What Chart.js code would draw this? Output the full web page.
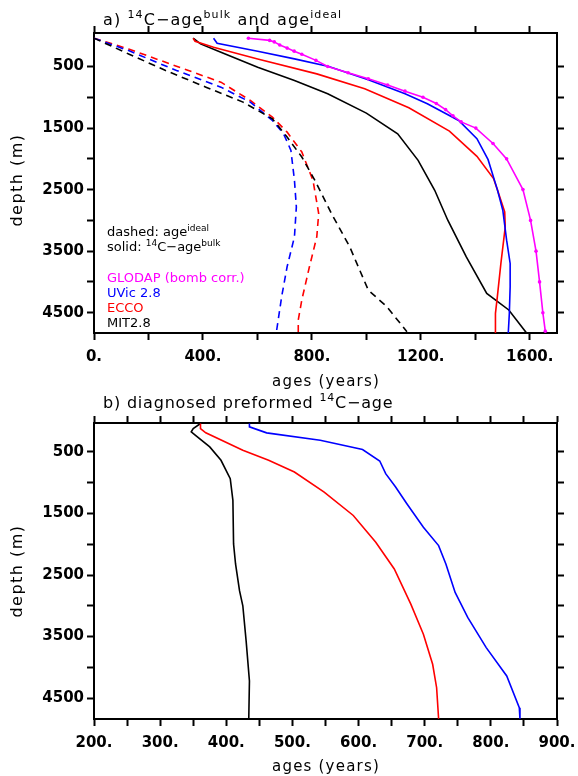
<!DOCTYPE html>
<html>
<head>
<meta charset="utf-8">
<script src="https://cdn.jsdelivr.net/npm/chart.js@4.4.1/dist/chart.umd.min.js"></script>
<style>
  body { margin: 0; background: #fff; }
  #wrap { position: relative; width: 578px; height: 776px; }
  canvas { position: absolute; left: 0; }
</style>
</head>
<body>
<div id="wrap">
  <canvas id="chartA" width="578" height="390" style="top:0"></canvas>
  <canvas id="chartB" width="578" height="386" style="top:390px"></canvas>
</div>
<script>
// ---- panel a: 14C-age (bulk) and ideal age, depth in m / age in years ----
const glodapDepth = [40, 75, 100, 150, 200, 250, 300, 400, 500, 600, 700, 800, 900, 1000, 1100, 1200, 1300, 1400, 1500, 1750, 2000, 2500, 3000, 3500, 4000, 4500, 4800];
const glodapBulk  = [567, 645, 662, 682, 709, 735, 763, 815, 858, 933, 1007, 1078, 1142, 1208, 1257, 1291, 1318, 1348, 1402, 1465, 1515, 1575, 1603, 1623, 1636, 1648, 1657];

const uvicBulkDepth = [40, 122, 251, 376, 500, 716, 943, 1105, 1376, 1673, 2013, 2500, 2835, 3321, 3700, 4078, 4511, 4835];
const uvicBulk      = [439, 452, 601, 736, 862, 1007, 1142, 1224, 1339, 1406, 1447, 1481, 1501, 1515, 1528, 1528, 1525, 1521];

const eccoBulkDepth = [40, 89, 186, 376, 619, 862, 1170, 1549, 1959, 2321, 2500, 2861, 3105, 3700, 4240, 4511, 4835];
const eccoBulk      = [364, 371, 439, 601, 818, 994, 1156, 1305, 1406, 1467, 1481, 1508, 1510, 1494, 1481, 1474, 1474];

const mitBulkDepth = [40, 132, 268, 511, 727, 943, 1257, 1592, 2024, 2511, 2997, 3592, 4186, 4456, 4835];
const mitBulk      = [364, 391, 466, 601, 736, 858, 1000, 1115, 1190, 1251, 1299, 1367, 1442, 1523, 1589];

const mitIdealDepth = [40, 295, 565, 835, 1078, 1349, 1646, 1970, 2349, 2889, 3430, 4132, 4402, 4808];
const mitIdeal      = [0, 127, 263, 411, 547, 655, 709, 763, 811, 872, 939, 1007, 1075, 1149];

const eccoIdealDepth = [40, 214, 538, 754, 1051, 1322, 1565, 1889, 2349, 2889, 3267, 3754, 4294, 4619, 4835];
const eccoIdeal      = [0, 127, 330, 466, 574, 655, 709, 763, 804, 825, 818, 791, 763, 750, 750];

const uvicIdealDepth = [40, 241, 565, 835, 1078, 1376, 1592, 1862, 2349, 2781, 3267, 3754, 4240, 4835];
const uvicIdeal      = [0, 127, 303, 466, 574, 655, 696, 723, 736, 743, 736, 709, 689, 669];

// ---- panel b: diagnosed preformed 14C-age ----
const mitPreDepth = [38, 120, 174, 228, 418, 636, 935, 1288, 1995, 2321, 2755, 3000, 3571, 4223, 4837];
const mitPre      = [361, 350, 347, 353, 375, 392, 406, 410, 411, 414, 420, 425, 430, 435, 434];

const eccoPreDepth = [38, 120, 190, 473, 636, 826, 1152, 1533, 1967, 2402, 2973, 3462, 3951, 4332, 4837];
const eccoPre      = [361, 361, 369, 425, 464, 503, 548, 592, 626, 654, 679, 698, 712, 718, 721];

const uvicPreDepth = [38, 92, 190, 310, 462, 647, 853, 1071, 1342, 1723, 2022, 2321, 2783, 3190, 3680, 4141, 4658, 4837];
const uvicPre      = [435, 435, 461, 542, 606, 632, 641, 656, 673, 698, 721, 732, 746, 765, 793, 824, 843, 844];

// axis tick values
const depthTicks = [500, 1000, 1500, 2000, 2500, 3000, 3500, 4000, 4500];
const ageTicksA = [0, 200, 400, 600, 800, 1000, 1200, 1400, 1600];
const ageTicksB = [200, 250, 300, 350, 400, 450, 500, 550, 600, 650, 700, 750, 800, 850, 900];

const FONT = "'DejaVu Sans', sans-serif";

function pts(ages, depths) {
    return ages.map((a, i) => ({ x: a, y: depths[i] }));
}

function line(label, ages, depths, color, dashed, dots) {
    return {
        label: label,
        data: pts(ages, depths),
        showLine: true,
        borderColor: color,
        backgroundColor: color,
        borderWidth: 1.6,
        borderDash: dashed ? [7, 5] : [],
        pointRadius: dots ? 1.8 : 0,
        pointBorderWidth: 0,
        tension: 0
    };
}

// draws text with superscript pieces: parts = [[text, isSup], ...]
function drawRich(ctx, it) {
    const size = it.size;
    const supSize = Math.round(size * 0.7);
    ctx.save();
    ctx.translate(it.x, it.y);
    if (it.rotate) ctx.rotate(-Math.PI / 2);
    ctx.fillStyle = it.color || "#000";
    ctx.textBaseline = "alphabetic";
    ctx.textAlign = "left";
    ctx.letterSpacing = (it.spacing || 0) + "px";
    let w = 0;
    it.parts.forEach(p => {
        ctx.font = (p[1] ? supSize : size) + "px " + FONT;
        w += ctx.measureText(p[0]).width;
    });
    let cx = it.center ? -w / 2 : 0;
    it.parts.forEach(p => {
        ctx.font = (p[1] ? supSize : size) + "px " + FONT;
        ctx.fillText(p[0], cx, p[1] ? -size * 0.42 : 0);
        cx += ctx.measureText(p[0]).width;
    });
    ctx.restore();
}

const textPlugin = {
    id: "texts",
    afterDraw(chart, args, opts) {
        (opts.items || []).forEach(it => drawRich(chart.ctx, it));
    }
};

function makeScales(xMin, xMax, xTicks, xLabelStep, yMin, yMax, bottomH) {
    const grid = { drawOnChartArea: false, tickLength: 7, tickWidth: 2, color: "#000" };
    const border = { width: 2, color: "#000" };
    const noPad = s => { s.paddingLeft = 0; s.paddingRight = 0; s.paddingTop = 0; s.paddingBottom = 0; };
    return {
        x: {
            type: "linear", position: "bottom", min: xMin, max: xMax,
            afterBuildTicks: s => { s.ticks = xTicks.map(v => ({ value: v })); },
            afterFit: s => { s.height = bottomH; noPad(s); },
            ticks: {
                maxRotation: 0, autoSkip: false, padding: 8, color: "#000",
                font: { family: FONT, size: 15, weight: "bold" },
                callback: v => (v % xLabelStep === 0 ? v + "." : "")
            },
            grid: grid, border: border
        },
        xTop: {
            type: "linear", position: "top", min: xMin, max: xMax,
            afterBuildTicks: s => { s.ticks = xTicks.map(v => ({ value: v })); },
            afterFit: s => { s.height = 33; noPad(s); },
            ticks: { display: false },
            grid: grid, border: border
        },
        y: {
            type: "linear", position: "left", reverse: true, min: yMin, max: yMax,
            afterBuildTicks: s => { s.ticks = depthTicks.map(v => ({ value: v })); },
            afterFit: s => { s.width = 94; noPad(s); },
            ticks: {
                autoSkip: false, padding: 3, color: "#000",
                font: { family: FONT, size: 15, weight: "bold" },
                callback: v => (v % 1000 === 500 ? String(v) : "")
            },
            grid: grid, border: border
        },
        yRight: {
            type: "linear", position: "right", reverse: true, min: yMin, max: yMax,
            afterBuildTicks: s => { s.ticks = depthTicks.map(v => ({ value: v })); },
            afterFit: s => { s.width = 21; noPad(s); },
            ticks: { display: false },
            grid: grid, border: border
        }
    };
}

const commonOpts = {
    responsive: false,
    animation: false,
    devicePixelRatio: 1,
    layout: { padding: 0 },
    plugins: { legend: { display: false }, tooltip: { enabled: false } }
};

// panel a
new Chart(document.getElementById("chartA").getContext("2d"), {
    type: "scatter",
    data: {
        datasets: [
            line("GLODAP (bomb corr.)", glodapBulk, glodapDepth, "#ff00ff", false, true),
            line("UVic 2.8 bulk", uvicBulk, uvicBulkDepth, "#0000ff", false, false),
            line("ECCO bulk", eccoBulk, eccoBulkDepth, "#ff0000", false, false),
            line("MIT2.8 bulk", mitBulk, mitBulkDepth, "#000000", false, false),
            line("MIT2.8 ideal", mitIdeal, mitIdealDepth, "#000000", true, false),
            line("UVic 2.8 ideal", uvicIdeal, uvicIdealDepth, "#0000ff", true, false),
            line("ECCO ideal", eccoIdeal, eccoIdealDepth, "#ff0000", true, false)
        ]
    },
    options: Object.assign({}, commonOpts, {
        scales: makeScales(0, 1700, ageTicksA, 400, -45, 4830, 390 - 333),
        plugins: Object.assign({}, commonOpts.plugins, {
            texts: {
                items: [
                    { x: 103, y: 25, size: 16, spacing: 1.1, parts: [["a) ", false], ["14", true], ["C\u2212age", false], ["bulk", true], [" and age", false], ["ideal", true]] },
                    { x: 107, y: 236, size: 13, parts: [["dashed: age", false], ["ideal", true]] },
                    { x: 107, y: 251, size: 13, parts: [["solid: ", false], ["14", true], ["C\u2212age", false], ["bulk", true]] },
                    { x: 107, y: 282, size: 13, color: "#ff00ff", parts: [["GLODAP (bomb corr.)", false]] },
                    { x: 107, y: 297, size: 13, color: "#0000ff", parts: [["UVic 2.8", false]] },
                    { x: 107, y: 312, size: 13, color: "#ff0000", parts: [["ECCO", false]] },
                    { x: 107, y: 327, size: 13, parts: [["MIT2.8", false]] },
                    { x: 326, y: 386, size: 15, spacing: 1.2, center: true, parts: [["ages (years)", false]] },
                    { x: 22, y: 180, size: 16, spacing: 1.5, center: true, rotate: true, parts: [["depth (m)", false]] }
                ]
            }
        })
    }),
    plugins: [textPlugin]
});

// panel b
new Chart(document.getElementById("chartB").getContext("2d"), {
    type: "scatter",
    data: {
        datasets: [
            line("UVic 2.8", uvicPre, uvicPreDepth, "#0000ff", false, false),
            line("ECCO", eccoPre, eccoPreDepth, "#ff0000", false, false),
            line("MIT2.8", mitPre, mitPreDepth, "#000000", false, false)
        ]
    },
    options: Object.assign({}, commonOpts, {
        scales: makeScales(200, 900, ageTicksB, 100, 30, 4840, 386 - 329),
        plugins: Object.assign({}, commonOpts.plugins, {
            texts: {
                items: [
                    { x: 103, y: 18, size: 16, spacing: 0.8, parts: [["b) diagnosed preformed ", false], ["14", true], ["C\u2212age", false]] },
                    { x: 326, y: 381, size: 15, spacing: 1.2, center: true, parts: [["ages (years)", false]] },
                    { x: 22, y: 181, size: 16, spacing: 1.5, center: true, rotate: true, parts: [["depth (m)", false]] }
                ]
            }
        })
    }),
    plugins: [textPlugin]
});
</script>
</body>
</html>
